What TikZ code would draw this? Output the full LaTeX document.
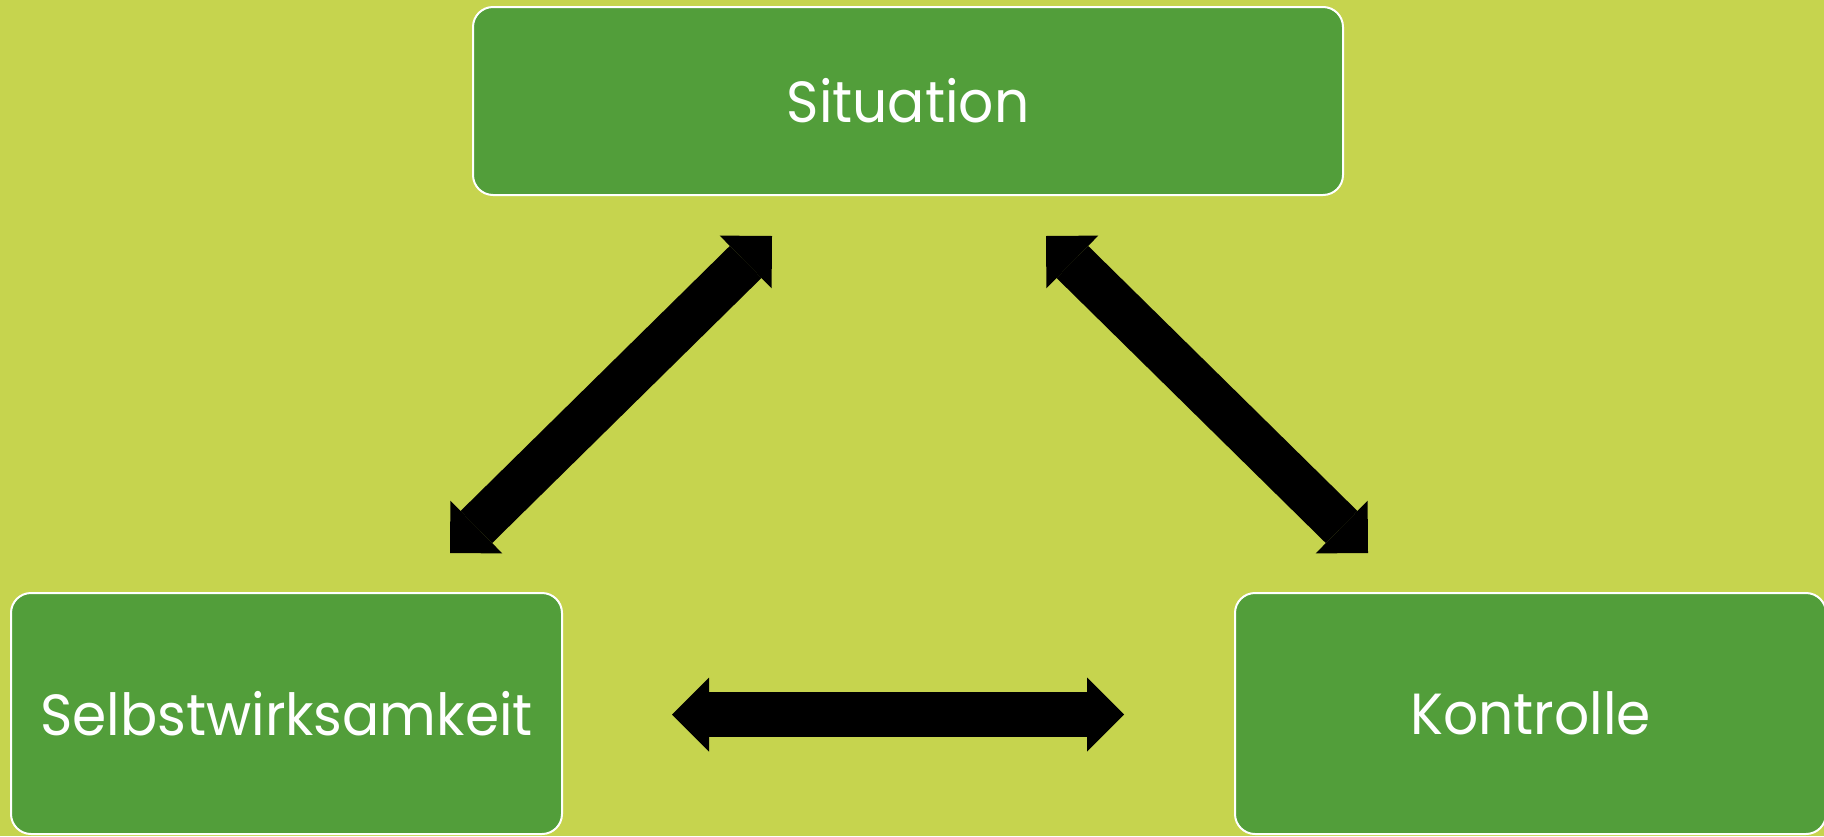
\documentclass[tikz,border=0pt]{standalone}
\usepackage{fontspec}
\setmainfont{Poppins}[FakeStretch=0.95]
\usetikzlibrary{arrows.meta}
\definecolor{bg}{HTML}{C6D44E}
\definecolor{boxgreen}{HTML}{529E3A}
\begin{document}
\begin{tikzpicture}[x=1pt,y=-1pt,
  box/.style={draw=white, line width=2pt, fill=boxgreen, rounded corners=20pt,
    text=white, font=\fontsize{58}{70}\selectfont, inner sep=0pt},
  bigtip/.tip={Triangle[length=37pt,width=74pt,line width=0pt]},
  bigarrow/.style={line width=45pt, draw=black, bigtip-bigtip}]
\useasboundingbox (0,0) rectangle (1824,836);
\fill[bg] (0,0) rectangle (1824,836);
\node[box, minimum width=870pt, minimum height=188pt] (sit) at (908,101) {Situation};
\node[box, minimum width=551pt, minimum height=241pt] (selb) at (286.5,713.5) {Selbstwirksamkeit};
\node[box, minimum width=591pt, minimum height=241pt] (kont) at (1530.5,713.5) {Kontrolle};
\coordinate (l1) at (772,236);
\coordinate (l2) at (450,553);
\coordinate (r1) at (1046,236);
\coordinate (r2) at (1368,553);
\coordinate (h1) at (672,714.5);
\coordinate (h2) at (1124,714.5);
\draw[bigarrow] (l1) -- (l2);
\draw[bigarrow] (r1) -- (r2);
\draw[bigarrow] (h1) -- (h2);
\end{tikzpicture}
\end{document}
